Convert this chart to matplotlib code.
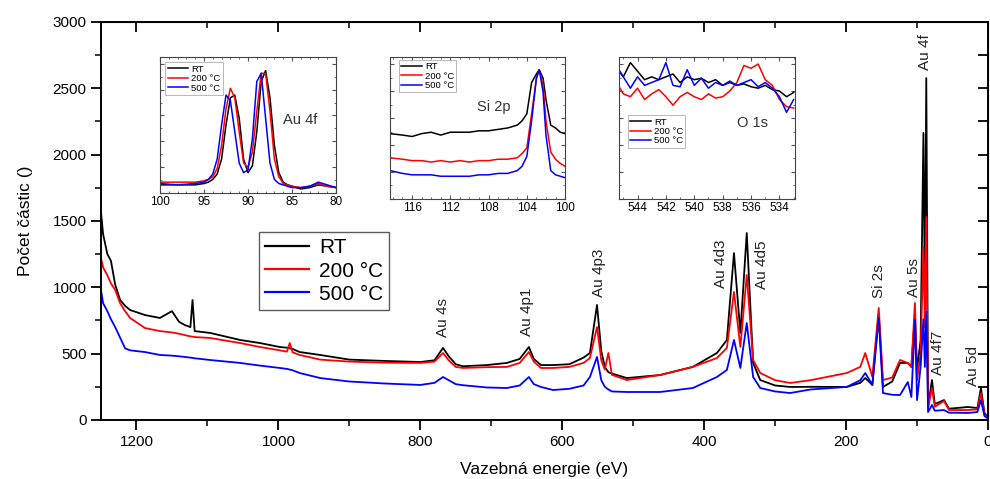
import matplotlib
matplotlib.use("Agg")
import matplotlib.pyplot as plt
from matplotlib.ticker import MultipleLocator, NullFormatter

plt.rcParams['font.family'] = ['Liberation Sans', 'DejaVu Sans']

# ---------------- main survey spectrum ----------------
energy = [1250, 1247, 1241, 1236, 1230, 1223, 1216, 1209, 1188, 1167,
          1150, 1140, 1132, 1124, 1121, 1118, 1096, 1054, 1026, 998,
          988, 984, 980, 970, 941, 900, 850, 800, 780, 768,
          760, 750, 740, 706, 678, 660, 647, 640, 630, 613,
          590, 570, 561, 551, 545, 540, 535, 530, 509, 462,
          416, 382, 368, 358, 349, 340, 331, 321, 300, 279,
          250, 199, 180, 173, 163, 154, 148, 135, 124, 113,
          108, 103, 100, 95, 91, 89, 87, 84.5, 79, 75,
          62, 55, 28, 15, 10, 5, 0]
counts_rt = [1567, 1400, 1250, 1200, 1020, 904, 860, 829, 791, 769,
             820, 740, 716, 700, 904, 670, 656, 603, 580, 550,
             545, 540, 535, 512, 490, 455, 445, 437, 450, 543,
             480, 420, 405, 414, 430, 460, 550, 460, 414, 414,
             420, 470, 505, 867, 520, 400, 360, 350, 316, 339,
             400, 505, 603, 1258, 656, 1409, 430, 301, 260, 249,
             250, 249, 280, 316, 264, 800, 249, 290, 430, 430,
             400, 800, 377, 600, 2163, 900, 2577, 98, 301, 120,
             150, 85, 98, 90, 241, 53, 20]
counts_200 = [1220, 1150, 1090, 1030, 980, 880, 820, 769, 693, 670,
              660, 650, 640, 630, 628, 625, 618, 580, 550, 525,
              515, 580, 510, 490, 455, 440, 432, 430, 440, 505,
              450, 400, 392, 398, 400, 430, 512, 440, 392, 392,
              400, 430, 467, 701, 450, 380, 505, 340, 301, 339,
              400, 467, 543, 965, 550, 1093, 452, 354, 300, 279,
              300, 354, 400, 505, 324, 844, 301, 320, 452, 430,
              400, 882, 301, 500, 1300, 700, 1530, 90, 241, 100,
              143, 75, 75, 80, 203, 40, 15]
counts_500 = [980, 880, 820, 760, 700, 620, 540, 525, 512, 490,
              485, 480, 475, 470, 468, 465, 452, 430, 410, 392,
              385, 380, 375, 354, 316, 290, 275, 264, 280, 324,
              300, 270, 262, 245, 241, 260, 324, 270, 249, 226,
              235, 260, 324, 475, 300, 250, 230, 215, 211, 211,
              241, 324, 377, 603, 392, 731, 324, 241, 215, 203,
              230, 249, 300, 354, 264, 769, 203, 190, 188, 286,
              173, 754, 150, 400, 760, 400, 814, 60, 113, 70,
              75, 55, 53, 60, 150, 30, 10]

series_labels = ['RT', '200 °C', '500 °C']
series_colors = ['#000000', '#ff0000', '#0000ff']

peak_labels = ['Au 4s', 'Au 4p1', 'Au 4p3', 'Au 4d3', 'Au 4d5', 'Si 2s',
               'Au 5s', 'Au 4f', 'Au 4f7', 'Au 5d']
peak_energy = [768, 650, 548, 376, 318, 154, 104, 89, 70, 21]
peak_label_y = [625, 633, 927, 995, 987, 919, 927, 2637, 339, 256]

# ---------------- inset: Au 4f ----------------
au4f_energy = [100, 98, 96, 95, 94.5, 94, 93.5, 93, 92.5, 92, 91.5, 91, 90.5, 90,
               89.5, 89, 88.5, 88, 87.5, 87, 86.5, 86, 85.5, 85, 84, 83, 82, 81, 80]
au4f_rt = [0.06, 0.06, 0.06, 0.07, 0.08, 0.10, 0.14, 0.25, 0.50, 0.70, 0.72, 0.55, 0.25, 0.15,
           0.20, 0.45, 0.82, 0.90, 0.70, 0.35, 0.15, 0.08, 0.06, 0.05, 0.03, 0.04, 0.06, 0.05, 0.04]
au4f_200 = [0.08, 0.08, 0.08, 0.09, 0.10, 0.12, 0.18, 0.35, 0.62, 0.77, 0.70, 0.45, 0.22, 0.19,
            0.30, 0.60, 0.88, 0.88, 0.60, 0.25, 0.12, 0.07, 0.06, 0.05, 0.04, 0.05, 0.07, 0.05, 0.04]
au4f_500 = [0.07, 0.06, 0.07, 0.08, 0.10, 0.14, 0.25, 0.50, 0.72, 0.68, 0.45, 0.22, 0.15, 0.17,
            0.40, 0.82, 0.88, 0.55, 0.22, 0.10, 0.07, 0.06, 0.05, 0.04, 0.04, 0.05, 0.08, 0.06, 0.04]

# ---------------- inset: Si 2p ----------------
si2p_energy = [118.3, 117, 116, 115, 114, 113, 112, 111, 110, 109, 108, 107, 106, 105,
               104.5, 104, 103.5, 103, 102.7, 102.3, 102, 101.5, 101, 100.5, 100]
si2p_rt = [0.46, 0.45, 0.44, 0.46, 0.47, 0.45, 0.47, 0.47, 0.47, 0.48, 0.48, 0.49, 0.50, 0.52,
           0.55, 0.60, 0.82, 0.88, 0.91, 0.85, 0.70, 0.52, 0.50, 0.47, 0.46]
si2p_200 = [0.29, 0.28, 0.27, 0.27, 0.26, 0.27, 0.26, 0.27, 0.26, 0.27, 0.27, 0.28, 0.28, 0.29,
            0.32, 0.36, 0.60, 0.85, 0.91, 0.80, 0.55, 0.33, 0.28, 0.25, 0.23]
si2p_500 = [0.20, 0.18, 0.17, 0.17, 0.17, 0.16, 0.16, 0.16, 0.16, 0.17, 0.17, 0.18, 0.18, 0.20,
            0.23, 0.30, 0.55, 0.85, 0.91, 0.75, 0.45, 0.20, 0.17, 0.16, 0.15]

# ---------------- inset: O 1s ----------------
o1s_energy = [545.3, 545, 544.5, 544, 543.5, 543, 542.5, 542, 541.5, 541, 540.5, 540, 539.5,
              539, 538.5, 538, 537.5, 537, 536.5, 536, 535.5, 535, 534.5, 534, 533.5, 533]
o1s_rt = [0.90, 0.86, 0.96, 0.90, 0.84, 0.86, 0.84, 0.86, 0.88, 0.82, 0.86, 0.84, 0.85,
          0.82, 0.84, 0.80, 0.82, 0.80, 0.81, 0.79, 0.78, 0.80, 0.77, 0.76, 0.72, 0.75]
o1s_200 = [0.79, 0.74, 0.72, 0.78, 0.70, 0.74, 0.77, 0.72, 0.66, 0.72, 0.75, 0.72, 0.70,
           0.74, 0.71, 0.72, 0.76, 0.82, 0.94, 0.92, 0.95, 0.84, 0.80, 0.70, 0.65, 0.64]
o1s_500 = [0.91, 0.86, 0.78, 0.86, 0.80, 0.82, 0.84, 0.96, 0.80, 0.79, 0.91, 0.80, 0.85,
           0.78, 0.82, 0.80, 0.83, 0.80, 0.82, 0.84, 0.79, 0.82, 0.78, 0.72, 0.61, 0.70]

# =====================================================
fig = plt.figure(figsize=(9.9, 4.79), dpi=100)
ax = fig.add_axes([0.102, 0.1232, 0.896, 0.831])

for vals, lab, col in zip([counts_rt, counts_200, counts_500], series_labels, series_colors):
    ax.plot(energy, vals, color=col, lw=1.3, label=lab)

ax.set_xlim(1250, 0)
ax.set_ylim(0, 3000)
ax.xaxis.set_major_locator(MultipleLocator(200))
ax.xaxis.set_minor_locator(MultipleLocator(100))
ax.yaxis.set_major_locator(MultipleLocator(500))
ax.yaxis.set_minor_locator(MultipleLocator(250))
ax.tick_params(which='major', direction='out', length=7, width=1.3, labelsize=11)
ax.tick_params(which='minor', direction='out', length=4, width=1.1)
for s in ax.spines.values():
    s.set_linewidth(1.4)

top = ax.secondary_xaxis('top')
top.xaxis.set_major_locator(MultipleLocator(200))
top.xaxis.set_minor_locator(MultipleLocator(100))
top.tick_params(which='major', direction='in', length=7, width=1.3, labeltop=False)
top.tick_params(which='minor', direction='in', length=4, width=1.1)
right = ax.secondary_yaxis('right')
right.yaxis.set_major_locator(MultipleLocator(250))
right.yaxis.set_minor_formatter(NullFormatter())
right.tick_params(which='major', direction='in', length=7, width=1.3, labelright=False)

ax.set_xlabel('Vazebná energie (eV)', fontsize=12.5, labelpad=10)
ax.set_ylabel('Počet částic ()', fontsize=12.5, labelpad=14)

for lab, e, yv in zip(peak_labels, peak_energy, peak_label_y):
    ax.text(e, yv, lab, rotation=90, ha='center', va='bottom', fontsize=11, color='#222222')

leg = ax.legend(loc='upper left', bbox_to_anchor=(0.1776, 0.472), fontsize=15,
                frameon=True, fancybox=False, edgecolor='#333333', handlelength=2.1,
                borderpad=0.3, labelspacing=0.2, handletextpad=0.5, borderaxespad=0)
leg.get_frame().set_linewidth(1.0)
for l in leg.get_lines():
    l.set_linewidth(1.6)


def make_inset(rect, xs, ys_list, xlim, xmajor, xminor, label, label_xy, legend_anchor):
    ia = fig.add_axes(rect)
    for vals, lab, col in zip(ys_list, series_labels, series_colors):
        ia.plot(xs, vals, color=col, lw=1.1, label=lab)
    ia.set_xlim(*xlim)
    ia.set_ylim(0, 1)
    ia.xaxis.set_major_locator(MultipleLocator(xmajor))
    ia.xaxis.set_minor_locator(MultipleLocator(xminor))
    ia.yaxis.set_major_locator(MultipleLocator(0.19))
    ia.yaxis.set_minor_locator(MultipleLocator(0.095))
    ia.set_yticklabels([])
    ia.tick_params(which='both', direction='in', top=True, right=True, color='#555555')
    ia.tick_params(which='major', length=3, labelsize=8.5, pad=2)
    ia.tick_params(which='minor', length=1.5)
    ia.tick_params(axis='y', which='both', labelleft=False)
    for s in ia.spines.values():
        s.set_color('#444444')
        s.set_linewidth(0.8)
    ia.text(label_xy[0], label_xy[1], label, fontsize=10.5, color='#333333',
            ha='center', va='center')
    lg = ia.legend(loc='upper left', bbox_to_anchor=legend_anchor, fontsize=6.8,
                   frameon=True, fancybox=False, edgecolor='#999999', handlelength=2.2,
                   borderpad=0.25, labelspacing=0.05, handletextpad=0.3, borderaxespad=0)
    lg.get_frame().set_linewidth(0.6)
    return ia


make_inset([0.1616, 0.597, 0.1778, 0.284], au4f_energy, [au4f_rt, au4f_200, au4f_500],
           (100, 80), 5, 1, 'Au 4f', (84.1, 0.54), (0.03, 0.96))
make_inset([0.394, 0.5846, 0.1768, 0.2965], si2p_energy, [si2p_rt, si2p_200, si2p_500],
           (118.3, 100), 4, 1, 'Si 2p', (107.5, 0.65), (0.05, 0.98))
make_inset([0.6253, 0.5846, 0.1778, 0.2965], o1s_energy, [o1s_rt, o1s_200, o1s_500],
           (545.3, 532.9), 2, 1, 'O 1s', (535.9, 0.535), (0.05, 0.59))

fig.savefig('out.png', dpi=100)
